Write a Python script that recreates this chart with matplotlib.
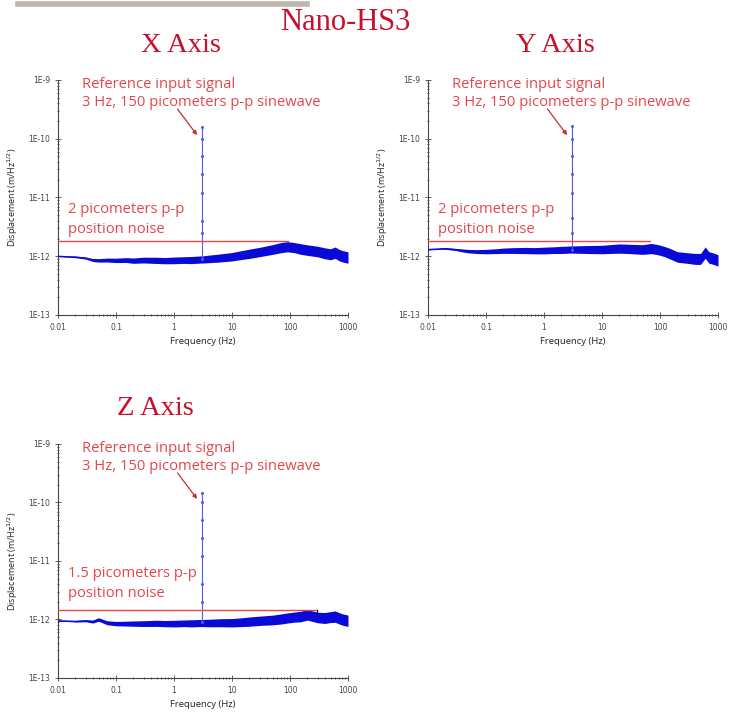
import matplotlib
matplotlib.use('Agg')
import matplotlib.pyplot as plt
import numpy as np
from matplotlib.lines import Line2D

freq = [0.01, 0.015, 0.02, 0.03, 0.04, 0.05, 0.07, 0.1, 0.15, 0.2, 0.3, 0.5, 0.7,
        1, 1.5, 2, 2.9, 3.1, 4, 6, 10, 15, 20, 30, 50, 70, 90, 120, 150, 200,
        300, 400, 500, 600, 700, 800, 1000]

# noise floor centre, in 1e-12 m/Hz^1/2
x_floor = [1.0, 0.98, 0.97, 0.93, 0.86, 0.85, 0.86, 0.85, 0.86, 0.84, 0.86, 0.85, 0.84,
           0.85, 0.86, 0.86, 0.88, 0.88, 0.9, 0.93, 0.98, 1.05, 1.1, 1.18, 1.3, 1.4, 1.45,
           1.4, 1.33, 1.27, 1.2, 1.12, 1.08, 1.15, 1.05, 1.0, 0.95]
y_floor = [1.3, 1.33, 1.35, 1.3, 1.25, 1.22, 1.2, 1.2, 1.22, 1.24, 1.25, 1.25, 1.24,
           1.25, 1.27, 1.28, 1.3, 1.3, 1.3, 1.3, 1.3, 1.33, 1.35, 1.33, 1.3, 1.35, 1.3,
           1.2, 1.1, 0.97, 0.93, 0.9, 0.9, 1.15, 0.95, 0.92, 0.85]
z_floor = [0.95, 0.94, 0.93, 0.95, 0.92, 1.0, 0.88, 0.85, 0.85, 0.85, 0.85, 0.86, 0.85,
           0.85, 0.86, 0.86, 0.87, 0.87, 0.87, 0.88, 0.88, 0.9, 0.92, 0.95, 0.98, 1.02, 1.06,
           1.1, 1.12, 1.2, 1.08, 1.06, 1.1, 1.12, 1.05, 1.0, 0.95]

# half width of the scatter band (multiplicative)
band = [1.02, 1.02, 1.03, 1.04, 1.06, 1.07, 1.08, 1.09, 1.1, 1.11, 1.12, 1.13, 1.13,
        1.14, 1.14, 1.15, 1.15, 1.15, 1.16, 1.17, 1.18, 1.19, 1.2, 1.2, 1.21, 1.22, 1.22,
        1.22, 1.23, 1.23, 1.23, 1.24, 1.24, 1.25, 1.25, 1.25, 1.25]

# 3 Hz reference spike
spike_f = 3.0
x_spike = [0.9e-12, 2.5e-12, 4e-12, 1.2e-11, 2.5e-11, 5e-11, 1e-10, 1.6e-10]
y_spike = [1.3e-12, 2.5e-12, 4.5e-12, 1.2e-11, 2.5e-11, 5e-11, 1e-10, 1.65e-10]
z_spike = [0.9e-12, 2e-12, 4e-12, 1.2e-11, 2.5e-11, 5e-11, 1e-10, 1.45e-10]

# position noise levels and the upper frequency of the red line
noise_levels = [1.85e-12, 1.85e-12, 1.45e-12]
noise_ends = [93, 67, 290]
noise_texts = ['2 picometers p-p\nposition noise', '2 picometers p-p\nposition noise',
               '1.5 picometers p-p\nposition noise']
titles = ['X Axis', 'Y Axis', 'Z Axis']

xticks = [0.01, 0.1, 1, 10, 100, 1000]
xtick_labels = ['0.01', '0.1', '1', '10', '100', '1000']
yticks = [1e-13, 1e-12, 1e-11, 1e-10, 1e-9]
ytick_labels = ['1E-13', '1E-12', '1E-11', '1E-10', '1E-9']

RED = '#e6454a'
TITLE_RED = '#c8102e'
BLUE = '#0a0ad8'
SANS = ['Open Sans', 'DejaVu Sans']
SERIF = ['Liberation Serif', 'DejaVu Serif']

fig = plt.figure(figsize=(7.39, 7.17), dpi=100)
fig.patch.set_facecolor('white')

positions = [[0.0785, 0.5607, 0.3924, 0.3278],
             [0.5792, 0.5607, 0.3924, 0.3278],
             [0.0785, 0.0544, 0.3924, 0.3264]]
floors = [x_floor, y_floor, z_floor]
spikes = [x_spike, y_spike, z_spike]

f = np.array(freq)
for i in range(3):
    ax = fig.add_axes(positions[i])
    c = np.array(floors[i]) * 1e-12
    b = np.array(band)
    ax.fill_between(f, c / b, c * b, color=BLUE, lw=0, zorder=3)
    ax.plot(f, c, color=BLUE, lw=0.9, zorder=3)
    ax.plot([spike_f] * len(spikes[i]), spikes[i], color='#5a5ae0', lw=0.8,
            marker='o', ms=1.2, zorder=4)

    ax.plot([0.01, noise_ends[i]], [noise_levels[i]] * 2, color=RED, lw=1.0, zorder=5)
    if i == 2:
        ax.plot([noise_ends[i]] * 2, [noise_levels[i], 1.3e-12], color='black', lw=0.8, zorder=5)

    ax.set_xscale('log')
    ax.set_yscale('log')
    ax.set_xlim(0.01, 1000)
    ax.set_ylim(1e-13, 1e-9)
    ax.set_xticks(xticks)
    ax.set_xticklabels(xtick_labels)
    ax.set_yticks(yticks)
    ax.set_yticklabels(ytick_labels)
    ax.tick_params(which='both', direction='inout', labelsize=5.5, colors='#444444',
                   width=0.6)
    ax.tick_params(which='major', length=4)
    ax.tick_params(which='minor', length=2)
    for s in ['top', 'right']:
        ax.spines[s].set_visible(False)
    for s in ['left', 'bottom']:
        ax.spines[s].set_color('#444444')
        ax.spines[s].set_linewidth(0.8)
    ax.set_xlabel('Frequency (Hz)', fontsize=6.8, color='#222222', family=SANS, labelpad=4)
    ax.set_ylabel('Displacement (m/Hz$^{1/2}$)', fontsize=6.5, color='#222222', family=SANS,
                  labelpad=6)

    ax.text(0.083, 0.979, 'Reference input signal', transform=ax.transAxes,
            color=RED, fontsize=10.6, family=SANS, va='center', ha='left')
    ax.text(0.083, 0.902, '3 Hz, 150 picometers p-p sinewave', transform=ax.transAxes,
            color=RED, fontsize=10.6, family=SANS, va='center', ha='left')
    ax.annotate('', xy=(2.5, 1.15e-10), xytext=(1.15, 3.2e-10),
                arrowprops=dict(arrowstyle='-|>', color='#c03030', lw=0.9,
                                mutation_scale=6, shrinkA=0, shrinkB=0))
    ax.text(0.034, 0.447, noise_texts[i].split('\n')[0], transform=ax.transAxes,
            color=RED, fontsize=10.6, family=SANS, va='center', ha='left')
    ax.text(0.034, 0.362, noise_texts[i].split('\n')[1], transform=ax.transAxes,
            color=RED, fontsize=10.6, family=SANS, va='center', ha='left')

# panel titles
fig.text(181 / 739, 1 - 45 / 717, titles[0], fontsize=20.5, color=TITLE_RED, family=SERIF,
         ha='center', va='center')
fig.text(555 / 739, 1 - 45 / 717, titles[1], fontsize=20.5, color=TITLE_RED, family=SERIF,
         ha='center', va='center')
fig.text(155 / 739, 1 - 408 / 717, titles[2], fontsize=20.5, color=TITLE_RED, family=SERIF,
         ha='center', va='center')
fig.text(345 / 739, 1 - 22 / 717, 'Nano-HS3', fontsize=22, color=TITLE_RED, family=SERIF,
         ha='center', va='center')

# grey rule at the top
fig.add_artist(Line2D([18 / 739, 307 / 739], [1 - 4 / 717, 1 - 4 / 717],
                      color='#bfb6ac', lw=4, transform=fig.transFigure))

fig.savefig('out.png', dpi=100, facecolor='white')
